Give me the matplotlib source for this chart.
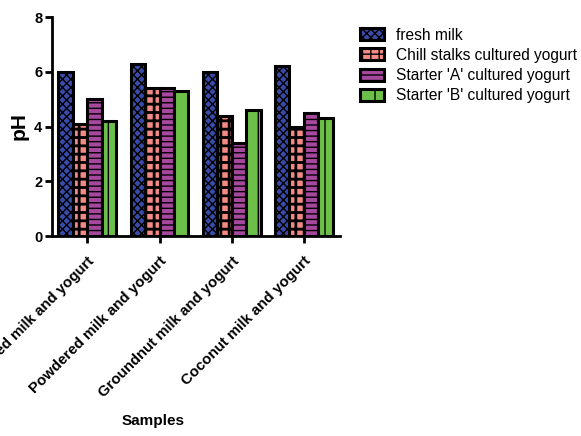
"""Grouped bar chart of pH for milk and yogurt samples."""

import matplotlib

matplotlib.use("Agg")
import matplotlib.pyplot as plt
import numpy as np

plt.rcParams["font.family"] = ["Liberation Sans", "DejaVu Sans"]
plt.rcParams["hatch.linewidth"] = 1.0

samples = [
    "Pasteurized milk and yogurt",
    "Powdered milk and yogurt",
    "Groundnut milk and yogurt",
    "Coconut milk and yogurt",
]
series_names = [
    "fresh milk",
    "Chill stalks cultured yogurt",
    "Starter 'A' cultured yogurt",
    "Starter 'B' cultured yogurt",
]
fresh_milk = [6.0, 6.3, 6.0, 6.2]
chill_stalks = [4.1, 5.4, 4.4, 4.0]
starter_a = [5.0, 5.4, 3.4, 4.5]
starter_b = [4.2, 5.3, 4.6, 4.3]

colors = ["#3a4aa8", "#f58a84", "#a6489e", "#6cc04a"]
hatches = ["xxxx", "++", "---", "|"]

fig = plt.figure(figsize=(5.81, 4.36), dpi=100)
ax = fig.add_axes([0.0895, 0.4587, 0.4955, 0.5023])

x = np.arange(len(samples))
width = 0.2
all_series = [fresh_milk, chill_stalks, starter_a, starter_b]
for i, (values, name) in enumerate(zip(all_series, series_names)):
    bars = ax.bar(
        x + (i - 1.5) * width,
        values,
        width,
        color=colors[i],
        edgecolor="black",
        linewidth=2.2,
        hatch=hatches[i],
        label=name,
    )
    if i == 1:
        # thicker grid so the pink reads as a checker
        for bar in bars:
            bar.set_hatch_linewidth(2.0)

ax.set_xlim(-0.49, 3.5)
ax.set_ylim(0, 8)
ax.set_yticks([0, 2, 4, 6, 8])
ax.set_xticks(x)
ax.set_xticklabels(
    samples, rotation=45, ha="right", rotation_mode="anchor",
    fontsize=10.8, fontweight="bold",
)
for label in ax.get_yticklabels():
    label.set_fontweight("bold")
    label.set_fontsize(10.5)

ax.spines["top"].set_visible(False)
ax.spines["right"].set_visible(False)
ax.spines["left"].set_linewidth(2)
ax.spines["bottom"].set_linewidth(2)
ax.tick_params(axis="y", direction="out", width=2, length=5, pad=2)
ax.tick_params(axis="x", direction="out", width=2, length=5, pad=8)

ax.set_ylabel("pH", fontsize=15, fontweight="bold", labelpad=4)
fig.text(0.263, 0.025, "Samples", ha="center", fontsize=11, fontweight="bold")

ax.legend(
    loc="upper left",
    bbox_to_anchor=(1.022, 1.015),
    frameon=False,
    fontsize=11.2,
    handlelength=1.5,
    handleheight=0.8,
    handletextpad=0.8,
    labelspacing=0.33,
)

fig.savefig("out.png", dpi=100)
